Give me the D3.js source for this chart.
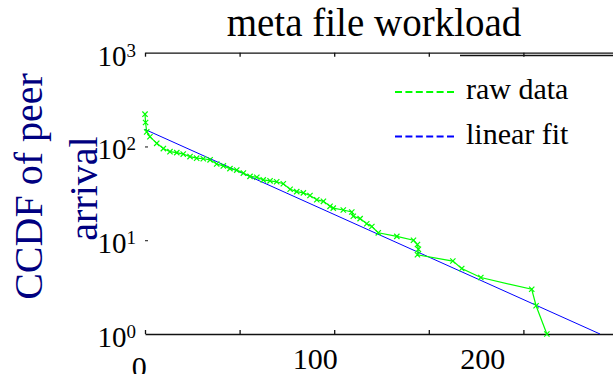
<!DOCTYPE html>
<html>
<head>
<meta charset="utf-8">
<script src="https://cdn.jsdelivr.net/npm/d3@7"></script>
<style>
  body { margin: 0; background: #fff; }
</style>
</head>
<body>
<svg id="chart" width="613" height="374" font-family="'Liberation Serif', 'Times New Roman', Times, serif"></svg>
<script>
// arrival time (x) and number of peers still to arrive (y)
const rawX = [0, 0.3, 0.9, 2.6, 6.2, 9.7, 13.2, 16.8, 20.2, 23.8, 27.3, 30.8, 34.4, 37.9, 41.4,
  44.9, 48.5, 52.0, 55.5, 59.1, 62.5, 66.1, 69.6, 73.1, 76.7, 80.2, 83.7, 87.2, 90.8, 94.3,
  97.8, 99.5, 104.8, 109.3, 110.1, 113.7, 117.2, 119.9, 123.3, 133.1, 141.9, 144.0, 144.5,
  144.0, 162.7, 167.4, 177.5, 204.4, 206.7, 212.4];
const rawY = [221, 180, 143, 127, 108, 95, 88, 86, 83, 78, 75, 74, 72, 65, 62,
  58, 56, 52, 48, 47, 44, 43, 42, 40, 35, 33, 32, 30, 27, 26,
  23, 22, 21, 20, 18, 17, 15, 14, 12, 11, 10, 9, 8,
  7, 6, 5, 4, 3, 2, 1];
const fitX = [0, 240.5];
const fitY = [152, 1];

const xTicks = [0, 50, 100, 150, 200, 250];
const xTickLabels = ["0", "100", "200"];
const xTickLabelAt = [-3, 90, 178.5];
const yTicks = [1, 10, 100, 1000];
const yTickExp = ["0", "1", "2", "3"];
const legendLabels = ["raw data", "linear fit"];
const legendColors = ["#00ff00", "#0000ff"];
const title = "meta file workload";
const yLabelLines = ["CCDF of peer", "arrival"];

const svg = d3.select("#chart");
const plotLeft = 145, plotRight = 618, plotTop = 52.7, plotBottom = 334;

const x = d3.scaleLinear().domain([0, 250]).range([plotLeft, plotRight]);
const y = d3.scaleLog().domain([1, 1000]).range([plotBottom, plotTop]);

// axes: bottom and top lines with inward ticks, no left line
svg.append("g")
    .attr("transform", "translate(0," + plotBottom + ")")
    .call(d3.axisBottom(x).tickValues(xTicks).tickSize(-4).tickSizeOuter(0).tickFormat(""))
    .call(g => g.selectAll("path,line").attr("stroke", "#111").attr("stroke-width", 1.3));

svg.append("g")
    .attr("transform", "translate(0," + plotTop + ")")
    .call(d3.axisTop(x).tickValues(xTicks).tickSize(-4).tickSizeOuter(0).tickFormat(""))
    .call(g => g.selectAll("path,line").attr("stroke", "#111").attr("stroke-width", 1.3));

svg.append("g")
    .attr("transform", "translate(" + plotLeft + ",0)")
    .call(d3.axisLeft(y).tickValues([10, 100]).tickSize(-3).tickFormat(""))
    .call(g => g.select(".domain").remove())
    .call(g => g.selectAll("line").attr("stroke", "#111"));

// x tick labels
svg.selectAll(".xlab")
    .data(xTickLabels)
    .enter()
    .append("text")
    .attr("class", "xlab")
    .attr("x", (d, i) => x(xTickLabelAt[i]))
    .attr("y", (d, i) => i === 0 ? 377 : 369)
    .attr("text-anchor", "middle")
    .attr("font-size", 30)
    .text(d => d);

// y tick labels 10^n
const ylab = svg.selectAll(".ylab")
    .data(yTicks)
    .enter()
    .append("text")
    .attr("class", "ylab")
    .attr("x", 136)
    .attr("y", d => y(d) + 13)
    .attr("text-anchor", "end")
    .attr("font-size", 29);
ylab.append("tspan").text("10");
ylab.append("tspan")
    .attr("dy", -9)
    .attr("font-size", 19)
    .text((d, i) => yTickExp[i]);

// title
svg.append("text")
    .attr("x", 374)
    .attr("y", 36)
    .attr("text-anchor", "middle")
    .attr("font-size", 39)
    .text(title);

// y label, two lines (second overlaps the tick labels as in the original)
svg.append("text")
    .attr("transform", "translate(42,186.5) rotate(-90)")
    .attr("text-anchor", "middle")
    .attr("font-size", 40)
    .attr("fill", "#000080")
    .text(yLabelLines[0]);
svg.append("text")
    .attr("transform", "translate(97,188.5) rotate(-90)")
    .attr("text-anchor", "middle")
    .attr("font-size", 40)
    .attr("fill", "#000080")
    .text(yLabelLines[1]);

// linear fit
const fitData = fitX.map((d, i) => ({ x: d, y: fitY[i] }));
svg.append("path")
    .datum(fitData)
    .attr("fill", "none")
    .attr("stroke", "#0000ff")
    .attr("stroke-width", 1)
    .attr("d", d3.line().x(d => x(d.x)).y(d => y(d.y)));

// raw data
const rawData = rawX.map((d, i) => ({ x: d, y: rawY[i] }));
svg.append("path")
    .datum(rawData)
    .attr("fill", "none")
    .attr("stroke", "#00ff00")
    .attr("stroke-width", 1.2)
    .attr("d", d3.line().x(d => x(d.x)).y(d => y(d.y)));

const marker = d3.symbol().type(d3.symbolTimes || d3.symbolCross).size(20);
svg.selectAll(".dot")
    .data(rawData)
    .enter()
    .append("path")
    .attr("class", "dot")
    .attr("transform", d => "translate(" + x(d.x) + "," + y(d.y) + ")")
    .attr("d", marker)
    .attr("fill", "none")
    .attr("stroke", "#00ff00")
    .attr("stroke-width", 1.2);

// legend (box top edge just under the axes top line)
svg.append("line")
    .attr("x1", 460).attr("x2", 613)
    .attr("y1", 55.5).attr("y2", 55.5)
    .attr("stroke", "#111")
    .attr("stroke-width", 1.3);

const leg = svg.selectAll(".leg")
    .data(legendLabels)
    .enter()
    .append("g")
    .attr("class", "leg")
    .attr("transform", (d, i) => "translate(0," + (92 + i * 44.5) + ")");
leg.append("line")
    .attr("x1", 395).attr("x2", 457)
    .attr("stroke", (d, i) => legendColors[i])
    .attr("stroke-width", 2)
    .attr("stroke-dasharray", "7,3.4");
leg.append("text")
    .attr("x", 466)
    .attr("y", 7)
    .attr("font-size", 30)
    .text(d => d);
</script>
</body>
</html>
